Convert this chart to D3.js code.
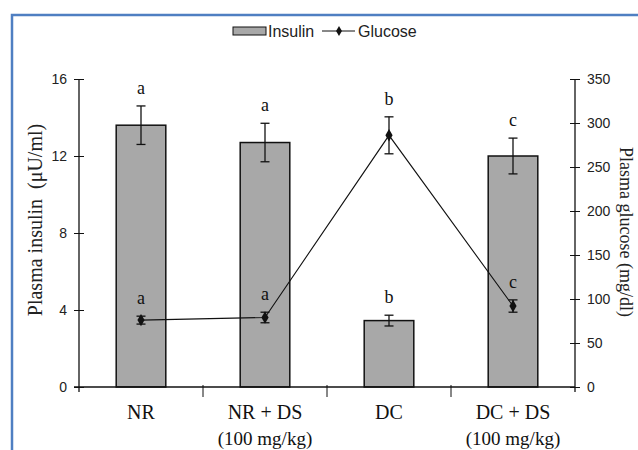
<!DOCTYPE html>
<html>
<head>
<meta charset="utf-8">
<script src="https://cdn.jsdelivr.net/npm/d3@7"></script>
<style>
  html, body { margin: 0; padding: 0; background: #fff; }
  svg { display: block; }
</style>
</head>
<body>
<svg id="chart" width="638" height="450"></svg>
<script>
// ---- data ----
const categories = ["NR", "NR + DS", "DC", "DC + DS"];
const subLabels = ["", "(100 mg/kg)", "", "(100 mg/kg)"];
const insulin = [13.6, 12.7, 3.45, 12.0];
const insulinSE = [1.0, 1.0, 0.28, 0.93];
const insulinLetters = ["a", "a", "b", "c"];
const glucose = [76, 79, 286, 92];
const glucoseSE = [4.5, 6, 21, 7];
const glucoseLetters = ["a", "a", "b", "c"];
const insulinTicks = [0, 4, 8, 12, 16];
const glucoseTicks = [0, 50, 100, 150, 200, 250, 300, 350];

// ---- layout ----
const svg = d3.select("#chart");
const L = 79, R = 575, T = 79, B = 387;
const sansFont = "'Liberation Sans', Arial, sans-serif";
const serifFont = "'Liberation Serif', 'Times New Roman', serif";

// blue frame
svg.append("rect")
  .attr("x", 12).attr("y", 15).attr("width", 700).attr("height", 500)
  .attr("fill", "none").attr("stroke", "#4f7fc2").attr("stroke-width", 2.5);

const x = d3.scaleBand().domain(categories).range([L, R]).paddingInner(0.6).paddingOuter(0.3);
const yI = d3.scaleLinear().domain([0, 16]).range([B, T]);
const yG = d3.scaleLinear().domain([0, 350]).range([B, T]);

// bars
svg.selectAll("rect.bar").data(insulin).join("rect")
  .attr("class", "bar")
  .attr("x", (d, i) => x(categories[i]))
  .attr("y", d => yI(d))
  .attr("width", x.bandwidth())
  .attr("height", d => B - yI(d))
  .attr("fill", "#a8a8a8").attr("stroke", "#111").attr("stroke-width", 1.5);

function cx(i) { return x(categories[i]) + x.bandwidth() / 2; }

// insulin error bars
const capW = 4.5;
insulin.forEach((v, i) => {
  const g = svg.append("g").attr("stroke", "#111").attr("stroke-width", 1.3);
  const top = yI(v + insulinSE[i]), bot = yI(v - insulinSE[i]);
  g.append("line").attr("x1", cx(i)).attr("x2", cx(i)).attr("y1", top).attr("y2", bot);
  g.append("line").attr("x1", cx(i) - capW).attr("x2", cx(i) + capW).attr("y1", top).attr("y2", top);
  g.append("line").attr("x1", cx(i) - capW).attr("x2", cx(i) + capW).attr("y1", bot).attr("y2", bot);
  svg.append("text").attr("x", cx(i)).attr("y", top - 12)
    .attr("text-anchor", "middle").attr("font-family", serifFont).attr("font-size", 18)
    .attr("fill", "#111").text(insulinLetters[i]);
});

// glucose line
const line = d3.line().x((d, i) => cx(i)).y(d => yG(d));
svg.append("path").datum(glucose).attr("d", line)
  .attr("fill", "none").attr("stroke", "#111").attr("stroke-width", 1.1);

glucose.forEach((v, i) => {
  const g = svg.append("g").attr("stroke", "#111").attr("stroke-width", 1.3);
  const top = yG(v + glucoseSE[i]), bot = yG(v - glucoseSE[i]);
  g.append("line").attr("x1", cx(i)).attr("x2", cx(i)).attr("y1", top).attr("y2", bot);
  g.append("line").attr("x1", cx(i) - capW).attr("x2", cx(i) + capW).attr("y1", top).attr("y2", top);
  g.append("line").attr("x1", cx(i) - capW).attr("x2", cx(i) + capW).attr("y1", bot).attr("y2", bot);
  svg.append("path").attr("d", d3.symbol(d3.symbolDiamond, 45)())
    .attr("transform", `translate(${cx(i)},${yG(v)})`).attr("fill", "#111");
  svg.append("text").attr("x", cx(i)).attr("y", top - 12)
    .attr("text-anchor", "middle").attr("font-family", serifFont).attr("font-size", 18)
    .attr("fill", "#111").text(glucoseLetters[i]);
});

// left axis
const axL = svg.append("g").attr("transform", `translate(${L},0)`)
  .call(d3.axisLeft(yI).tickValues(insulinTicks).tickSize(0).tickPadding(12));
axL.select(".domain").remove();
axL.selectAll("text").attr("font-family", sansFont).attr("font-size", 14).attr("fill", "#222");
axL.selectAll(".tick").append("line").attr("x1", -5).attr("x2", 5).attr("stroke", "#111");
svg.append("line").attr("x1", L).attr("x2", L).attr("y1", T).attr("y2", B + 5).attr("stroke", "#111").attr("stroke-width", 1.3);

// right axis
const axR = svg.append("g").attr("transform", `translate(${R},0)`)
  .call(d3.axisRight(yG).tickValues(glucoseTicks).tickSize(0).tickPadding(12));
axR.select(".domain").remove();
axR.selectAll("text").attr("font-family", sansFont).attr("font-size", 14).attr("fill", "#222");
axR.selectAll(".tick").append("line").attr("x1", -5).attr("x2", 5).attr("stroke", "#111");
svg.append("line").attr("x1", R).attr("x2", R).attr("y1", T).attr("y2", B + 5).attr("stroke", "#111").attr("stroke-width", 1.3);

// x axis
svg.append("line").attr("x1", L - 5).attr("x2", R).attr("y1", B).attr("y2", B).attr("stroke", "#111").attr("stroke-width", 1.3);
categories.slice(1).forEach((c) => {
  const bx = x(c) - x.step() * x.paddingInner() / 2;
  svg.append("line").attr("x1", bx).attr("x2", bx).attr("y1", B - 2).attr("y2", B + 10).attr("stroke", "#111");
});
categories.forEach((c, i) => {
  svg.append("text").attr("x", cx(i)).attr("y", 419).attr("text-anchor", "middle")
    .attr("font-family", serifFont).attr("font-size", 20).attr("fill", "#111").text(c);
  if (subLabels[i]) {
    svg.append("text").attr("x", cx(i)).attr("y", 445).attr("text-anchor", "middle")
      .attr("font-family", serifFont).attr("font-size", 19).attr("fill", "#111").text(subLabels[i]);
  }
});

// axis titles
svg.append("text").attr("transform", "translate(42,220) rotate(-90)")
  .attr("text-anchor", "middle").attr("font-family", serifFont).attr("font-size", 20)
  .attr("fill", "#222").attr("xml:space", "preserve").text("Plasma insulin  (μU/ml)");
svg.append("text").attr("transform", "translate(620,232) rotate(90)")
  .attr("text-anchor", "middle").attr("font-family", serifFont).attr("font-size", 18)
  .attr("fill", "#222").text("Plasma glucose (mg/dl)");

// legend
svg.append("rect").attr("x", 233).attr("y", 27).attr("width", 33).attr("height", 8)
  .attr("fill", "#a8a8a8").attr("stroke", "#111").attr("stroke-width", 1);
svg.append("text").attr("x", 268).attr("y", 37).attr("font-family", sansFont).attr("font-size", 16)
  .attr("fill", "#222").text("Insulin");
svg.append("line").attr("x1", 322).attr("x2", 355).attr("y1", 31).attr("y2", 31).attr("stroke", "#111");
svg.append("path").attr("d", d3.symbol(d3.symbolDiamond, 30)())
  .attr("transform", "translate(339,31)").attr("fill", "#111");
svg.append("text").attr("x", 358).attr("y", 37).attr("font-family", sansFont).attr("font-size", 16)
  .attr("fill", "#222").text("Glucose");
</script>
</body>
</html>
